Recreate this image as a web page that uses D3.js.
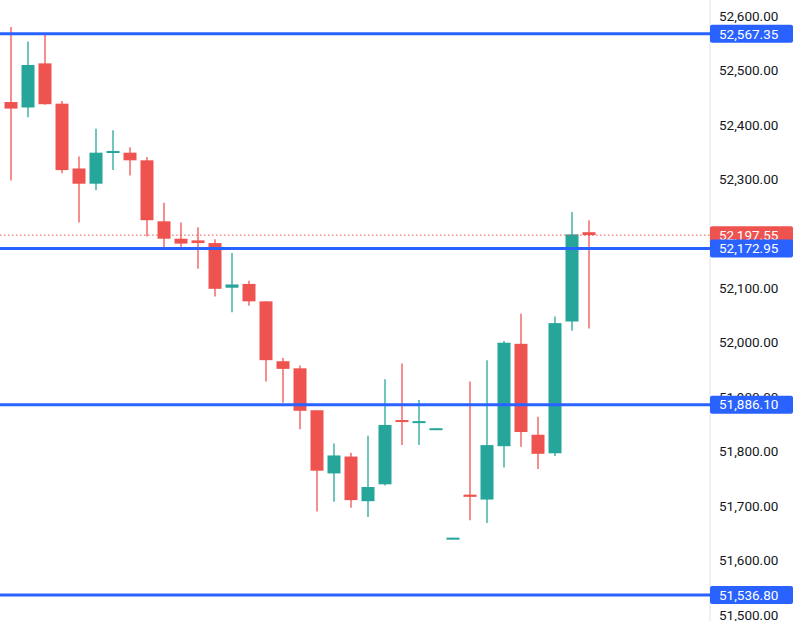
<!DOCTYPE html>
<html><head><meta charset="utf-8">
<script src="https://cdn.jsdelivr.net/npm/d3@7"></script>
<style>body{margin:0;background:#fff}svg{display:block}</style>
</head><body><svg id="c" width="800" height="621"></svg>
<script>
const opens  = [52442,52432,52513,52439,52320,52292,52351,52349,52335,52223,52191,52188,52183,52101,52108,52076,51966,51953,51876,51760,51791,51709,51740,51858,51853,51842,51641,51721,51712,51810,51998,51831,51797,52039,52203];
const closes = [52430,52510,52438,52317,52292,52349,52352,52335,52225,52191,52182,52183,52099,52107,52076,51968,51952,51875,51765,51793,51711,51735,51849,51855,51856,51843,51642,51717,51812,52000,51836,51796,52036,52199,52197.55];
const highs  = [52580,52553,52565,52444,52342,52393,52390,52359,52341,52257,52221,52212,52190,52165,52114,52076,51972,51958,51876,51815,51798,51829,51933,51962,51895,51843,51642,51929,51968,52003,52053,51864,52048,52240,52225];
const lows   = [52298,52414,52437,52311,52221,52280,52317,52307,52195,52176,52173,52136,52085,52056,52068,51929,51890,51841,51690,51708,51697,51680,51738,51812,51812,51842,51641,51674,51669,51771,51809,51768,51792,52022,52026];
const levels = [52567.35,52172.95,51886.10,51536.80];
const lastPrice = 52197.55;
const ticks = [52600,52500,52400,52300,52200,52100,52000,51900,51800,51700,51600,51500];

const svg=d3.select('#c');
const W=800,axisX=710;
const y=d3.scaleLinear().domain([51500,52600]).range([615,16]);
const x=d3.scaleLinear().domain([0,34]).range([11,589]);
const up='#26a69a',dn='#ef5350',blue='#2962ff';
const fmt=d3.format(',.2f');

svg.append('line').attr('x1',axisX).attr('x2',axisX).attr('y1',0).attr('y2',621).attr('stroke','#e0e3eb');

const g=svg.append('g');
opens.forEach((o,i)=>{
  const c=closes[i],col=c>=o?up:dn,cx=x(i);
  g.append('line').attr('x1',cx).attr('x2',cx).attr('y1',y(highs[i])).attr('y2',y(lows[i])).attr('stroke',col).attr('stroke-width',1.3);
  const t=y(Math.max(o,c)),b=y(Math.min(o,c));
  g.append('rect').attr('x',cx-6.5).attr('width',13).attr('y',t).attr('height',Math.max(2,b-t)).attr('fill',col);
});

svg.append('line').attr('x1',0).attr('x2',axisX).attr('y1',y(lastPrice)).attr('y2',y(lastPrice))
  .attr('stroke',dn).attr('stroke-dasharray','1.5,2.5').attr('stroke-width',1);

levels.forEach(v=>{
  svg.append('line').attr('x1',0).attr('x2',axisX).attr('y1',y(v)).attr('y2',y(v)).attr('stroke',blue).attr('stroke-width',3);
});

const ax=svg.append('g').attr('font-family','Roboto, sans-serif').attr('font-size',13.5).attr('fill','#131722');
ticks.forEach(t=>{
  ax.append('text').attr('x',719).attr('y',y(t)).attr('dy','0.35em').text(fmt(t));
});

function tag(v,col){
  svg.append('rect').attr('x',axisX).attr('y',y(v)-9).attr('width',W-axisX-7).attr('height',18).attr('rx',2).attr('fill',col);
  svg.append('text').attr('x',719).attr('y',y(v)).attr('dy','0.35em').attr('fill','#fff')
    .attr('font-family','Roboto, sans-serif').attr('font-size',13.5).text(fmt(v));
}
tag(lastPrice,dn);
levels.forEach(v=>tag(v,blue));
</script></body></html>
